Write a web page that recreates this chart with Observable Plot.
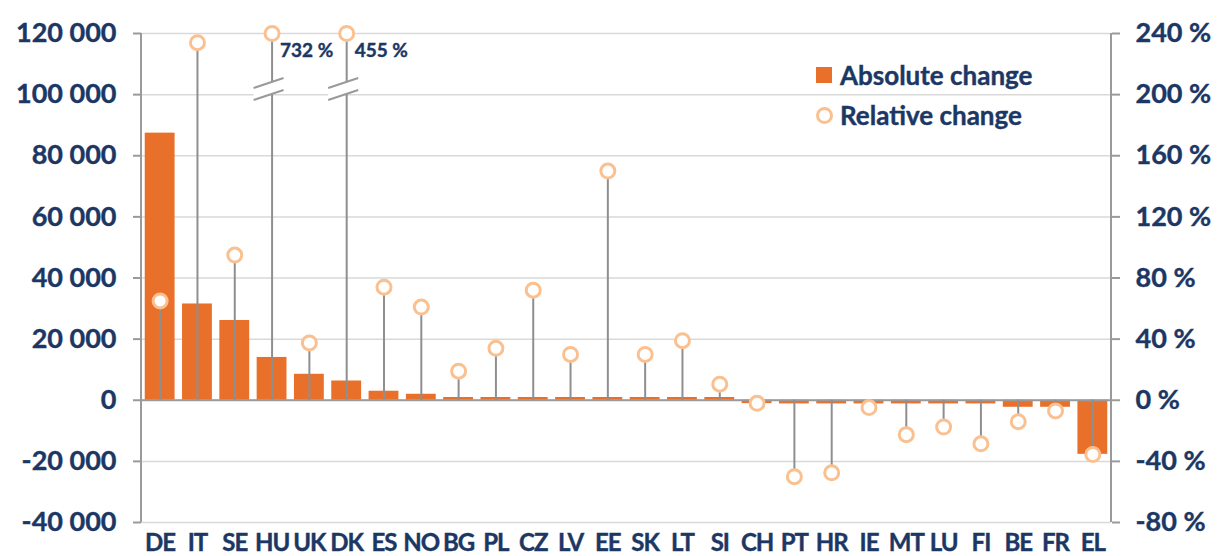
<!DOCTYPE html>
<html>
<head>
<meta charset="utf-8">
<script src="https://cdn.jsdelivr.net/npm/d3@7"></script>
<script src="https://cdn.jsdelivr.net/npm/@observablehq/plot@0.6"></script>
<style>
  html, body { margin: 0; padding: 0; background: #fff; }
  #wrap { position: relative; width: 1218px; height: 556px; font-family: Lato, "Open Sans", sans-serif; font-weight: bold; color: #1c3764; }
  #legend { position: absolute; left: 808px; top: 55px; font-size: 26px; line-height: 40px; -webkit-text-stroke: 0.4px #1c3764; }
  #legend .row { display: flex; align-items: center; height: 40px; }
  #legend .sw { width: 32px; display: flex; justify-content: center; }
  #legend .sq { width: 16px; height: 16px; background: #E8702A; }
  #legend .ci { width: 11px; height: 11px; border: 3px solid #FAC08F; border-radius: 50%; background: #fff; }
  #chart g[aria-label$="tick label"] text, #chart g[aria-label="text"] text { stroke: #1c3764; stroke-width: 0.4px; }
</style>
</head>
<body>
<div id="wrap">
  <div id="chart"></div>
  <div id="legend">
    <div class="row"><div class="sw"><div class="sq"></div></div><span>Absolute change</span></div>
    <div class="row"><div class="sw"><div class="ci"></div></div><span>Relative change</span></div>
  </div>
</div>
<script>
const countries = ["DE","IT","SE","HU","UK","DK","ES","NO","BG","PL","CZ","LV","EE","SK","LT","SI","CH","PT","HR","IE","MT","LU","FI","BE","FR","EL"];
const absoluteChange = [87400, 31500, 26100, 14000, 8500, 6300, 2950, 1960, 900, 900, 900, 900, 900, 900, 900, 900, -1100, -1200, -1200, -1200, -1200, -1200, -1200, -2300, -2300, -17700];
const relativeChange = [65, 234, 95, 732, 37.5, 455, 74, 61, 19, 34, 72, 30, 150, 30, 39, 10.5, -2, -50, -47.5, -4.8, -22.5, -17.5, -28.5, -14, -7, -35.5];
const leftTicks = [-40000, -20000, 0, 20000, 40000, 60000, 80000, 100000, 120000];
const leftTickLabels = ["-40 000", "-20 000", "0", "20 000", "40 000", "60 000", "80 000", "100 000", "120 000"];
const rightTickLabels = ["-80 %", "-40 %", "0 %", "40 %", "80 %", "120 %", "160 %", "200 %", "240 %"];
const relMax = 240;          // right axis maximum (%)
const unitsPerPercent = 500; // 120 000 on left axis <-> 240 % on right axis
const breakAt = 204;         // % level where the axis-break marks sit

const navy = "#1c3764";
const rows = countries.map((c, i) => ({
  c,
  abs: absoluteChange[i],
  rel: relativeChange[i],
  relY: Math.min(relativeChange[i], relMax) * unitsPerPercent
}));
const capped = rows.filter(d => d.rel > relMax);

function bandCenter(scales, c) {
  const x = scales.x;
  const bw = typeof x.bandwidth === "function" ? x.bandwidth() : 0;
  return x(c) + bw / 2;
}

function breaks(index, scales, values, dims) {
  const ns = "http://www.w3.org/2000/svg";
  const g = document.createElementNS(ns, "g");
  for (const d of capped) {
    const cx = bandCenter(scales, d.c);
    const cy = scales.y(breakAt * unitsPerPercent);
    const L = 18, R = 12, k = 10 / 30;
    const up = (x, off) => cy + off - (x - cx) * k;
    const poly = document.createElementNS(ns, "polygon");
    poly.setAttribute("points", [
      [cx - L, up(cx - L, -6)], [cx + R, up(cx + R, -6)],
      [cx + R, up(cx + R, 6)], [cx - L, up(cx - L, 6)]
    ].map(p => p.join(",")).join(" "));
    poly.setAttribute("fill", "white");
    g.appendChild(poly);
    for (const off of [-6, 6]) {
      const ln = document.createElementNS(ns, "line");
      ln.setAttribute("x1", cx - L); ln.setAttribute("y1", up(cx - L, off));
      ln.setAttribute("x2", cx + R); ln.setAttribute("y2", up(cx + R, off));
      ln.setAttribute("stroke", "#9a9a9a"); ln.setAttribute("stroke-width", 2);
      g.appendChild(ln);
    }
  }
  return g;
}

function axisLines(index, scales, values, dims) {
  const ns = "http://www.w3.org/2000/svg";
  const g = document.createElementNS(ns, "g");
  const y1 = scales.y(leftTicks[leftTicks.length - 1]);
  const y2 = scales.y(leftTicks[0]);
  for (const x of [dims.marginLeft, dims.width - dims.marginRight]) {
    const ln = document.createElementNS(ns, "line");
    ln.setAttribute("x1", x); ln.setAttribute("x2", x);
    ln.setAttribute("y1", y1); ln.setAttribute("y2", y2);
    ln.setAttribute("stroke", "#9a9a9a"); ln.setAttribute("stroke-width", 2);
    g.appendChild(ln);
  }
  return g;
}

const chart = Plot.plot({
  width: 1218,
  height: 556,
  marginLeft: 141,
  marginRight: 107,
  marginTop: 33,
  marginBottom: 34,
  style: { fontFamily: "Lato, 'Open Sans', sans-serif", fontWeight: "bold", color: navy, background: "white", overflow: "visible" },
  x: { type: "band", domain: countries, paddingInner: 0.2, paddingOuter: 0.1, round: false, label: null },
  y: { domain: [leftTicks[0], leftTicks[leftTicks.length - 1]], label: null },
  marks: [
    Plot.gridY(leftTicks, { stroke: "#d9d9d9", strokeOpacity: 1, strokeWidth: 1.5 }),
    Plot.barY(rows, { x: "c", y: "abs", fill: "#E8702A" }),
    Plot.ruleY([0], { stroke: "#9a9a9a", strokeWidth: 2 }),
    Plot.ruleX(rows, { x: "c", y1: 0, y2: "relY", stroke: "#8f8f8f", strokeWidth: 2 }),
    breaks,
    Plot.dot(rows, { x: "c", y: "relY", r: 7, fill: "white", stroke: "#FAC08F", strokeWidth: 3 }),
    Plot.text(capped, { x: "c", y: "relY", text: d => d.rel + " %", dx: 8, dy: 17, textAnchor: "start", fontSize: 19, fontWeight: "bold", fill: navy }),
    axisLines,
    Plot.axisY(leftTicks, { anchor: "left", tickSize: 8, tickPadding: 17, stroke: "#9a9a9a", strokeWidth: 2, fontSize: 27, fill: navy, tickFormat: d => leftTickLabels[leftTicks.indexOf(d)] }),
    Plot.axisY(leftTicks, { anchor: "right", tickSize: 8, tickPadding: 16, stroke: "#9a9a9a", strokeWidth: 2, fontSize: 27, fill: navy, tickFormat: d => rightTickLabels[leftTicks.indexOf(d)] }),
    Plot.axisX({ anchor: "bottom", tickSize: 0, tickPadding: 11, fontSize: 24, fill: navy })
  ]
});
d3.select(chart).selectAll('g[aria-label="x-axis tick label"] text').style("letter-spacing", "-1px");
document.getElementById("chart").appendChild(chart);
</script>
</body>
</html>
